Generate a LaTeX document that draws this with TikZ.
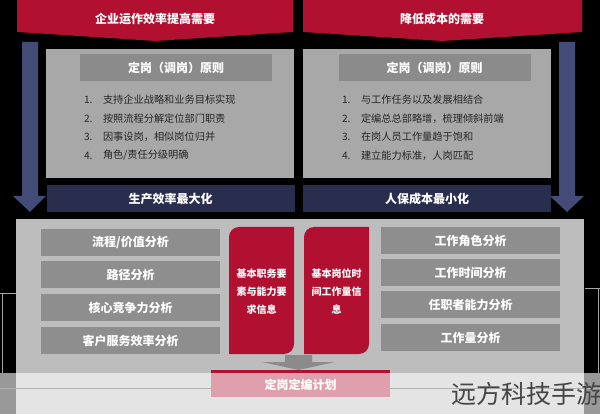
\documentclass[tikz,border=0pt]{standalone}
\usepackage{fontspec}
\newfontfamily\cjk{Noto Sans CJK SC}
\usetikzlibrary{calc}
\definecolor{bannerred}{RGB}{178,16,48}
\definecolor{arrowblue}{RGB}{66,76,118}
\definecolor{navybar}{RGB}{42,46,78}
\definecolor{panelgray}{RGB}{168,168,168}
\definecolor{lowgray}{RGB}{189,189,189}
\definecolor{headgray}{RGB}{139,139,139}
\definecolor{boxgray}{RGB}{142,142,142}
\definecolor{listtext}{RGB}{38,38,38}
\definecolor{wmtext}{RGB}{70,70,70}
\tikzset{
  base/.style={font=\cjk, inner sep=0pt, outer sep=0pt},
  bannertext/.style={base, text=white, font=\cjk\bfseries\fontsize{12}{14}\selectfont},
  headbox/.style={base, fill=headgray, text=white, minimum width=192pt, minimum height=27pt, font=\cjk\bfseries\fontsize{12}{14}\selectfont},
  listnum/.style={base, text=listtext, anchor=west, font=\cjk\fontsize{10.2}{12}\selectfont},
  navytext/.style={base, fill=navybar, text=white, minimum width=248pt, minimum height=27pt, font=\cjk\bfseries\fontsize{12}{14}\selectfont},
  abox/.style={base, fill=boxgray, text=white, minimum width=179pt, minimum height=27pt, font=\cjk\bfseries\fontsize{12}{14}\selectfont},
  redtext/.style={base, text=white, align=center, font=\cjk\bfseries\fontsize{10}{18}\selectfont},
}
\begin{document}
\begin{tikzpicture}[x=1pt,y=-1pt]
\useasboundingbox (0,0) rectangle (600,414);
\fill[black] (0,0) rectangle (600,414);
% banners
\fill[bannerred] (17,0) -- (293,0) -- (293,32) -- (155,41) -- (17,32) -- cycle;
\fill[bannerred] (303,0) -- (582,0) -- (582,32) -- (442,41) -- (303,32) -- cycle;
\node[bannertext] (b1) at (155,19) {企业运作效率提高需要};
\node[bannertext] (b2) at (442,19) {降低成本的需要};
% side arrows
\fill[arrowblue] (22,42) -- (38,42) -- (38,196) -- (46,196) -- (30,212) -- (13,196) -- (22,196) -- cycle;
\fill[arrowblue] (559,42) -- (575,42) -- (575,196) -- (584,196) -- (567,212) -- (550,196) -- (559,196) -- cycle;
% upper panels
\fill[panelgray] (46,49) rectangle (294,178);
\fill[panelgray] (303,49) rectangle (551,178);
\node[headbox] (h1) at (176,67.5) {定岗（调岗）原则};
\node[headbox] (h2) at (434.5,67.5) {定岗（调岗）原则};
\foreach \i/\t [count=\k] in {100/{支持企业战略和业务目标实现},118.5/{按照流程分解定位部门职责},137/{因事设岗，相似岗位归并},155.5/{角色/责任分级明确}}{
  \node[listnum] (ln\k) at (84,\i) {\k.};
  \node[listnum] (lt\k) at (103,\i) {\t};
}
\foreach \i/\t [count=\k] in {100/{与工作任务以及发展相结合},118.5/{定编总总部略增，梳理倾斜前端},137/{在岗人员工作量趋于饱和},155.5/{建立能力标准，人岗匹配}}{
  \node[listnum] (rn\k) at (342,\i) {\k.};
  \node[listnum] (rt\k) at (361,\i) {\t};
}
% navy bars
\node[navytext] (n1) at (170.5,198.5) {生产效率最大化};
\node[navytext] (n2) at (427,198.5) {人保成本最小化};
% lower panel
\fill[lowgray] (16,219) rectangle (584,414);
\node[abox] (a1) at (130.5,242.5) {流程/价值分析};
\node[abox] (a2) at (130.5,275) {路径分析};
\node[abox] (a3) at (130.5,307.5) {核心竞争力分析};
\node[abox] (a4) at (130.5,340.5) {客户服务效率分析};
\node[abox] (c1) at (470.5,240.5) {工作角色分析};
\node[abox] (c2) at (470.5,272.5) {工作时间分析};
\node[abox] (c3) at (470.5,304.5) {任职者能力分析};
\node[abox] (c4) at (470.5,337.5) {工作量分析};
% red boxes
\fill[bannerred] (229,354) -- (229,237) arc[start angle=180,end angle=270,radius=10] -- (294,227) -- (294,344) arc[start angle=0,end angle=90,radius=10] -- cycle;
\fill[bannerred] (304,354) -- (304,237) arc[start angle=180,end angle=270,radius=10] -- (369,227) -- (369,344) arc[start angle=0,end angle=90,radius=10] -- cycle;
\node[redtext] (r1) at (261.5,292) {基本职务要\\素与能力要\\求信息};
\node[redtext] (r2) at (336.5,292) {基本岗位时\\间工作量信\\息};
% gray down arrow
\fill[headgray] (285,355) -- (312,355) -- (312,362) -- (335,362) -- (298.5,370) -- (262,362) -- (285,362) -- cycle;
% plan box
\fill[bannerred] (211,370) rectangle (390,397);
\node[base, text=white, font=\cjk\bfseries\fontsize{12}{14}\selectfont] (plan) at (300.5,385) {定岗定编计划};
% watermark band artefacts
\draw[gray!70, line width=0.6pt] (0,293) -- (16,293) (2,293) -- (2,373);
\draw[gray!70, line width=0.6pt] (600,288) -- (585,288) (598,288) -- (598,373);
\fill[white, opacity=0.6] (0,373) rectangle (600,414);
\draw[gray!60, line width=0.5pt] (0,388) -- (211,388) (390,388) -- (600,388);
\node[base, text=wmtext, anchor=east, font=\cjk\fontsize{25}{28}\selectfont] (wm) at (601,394) {远方科技手游};
\end{tikzpicture}
\end{document}
